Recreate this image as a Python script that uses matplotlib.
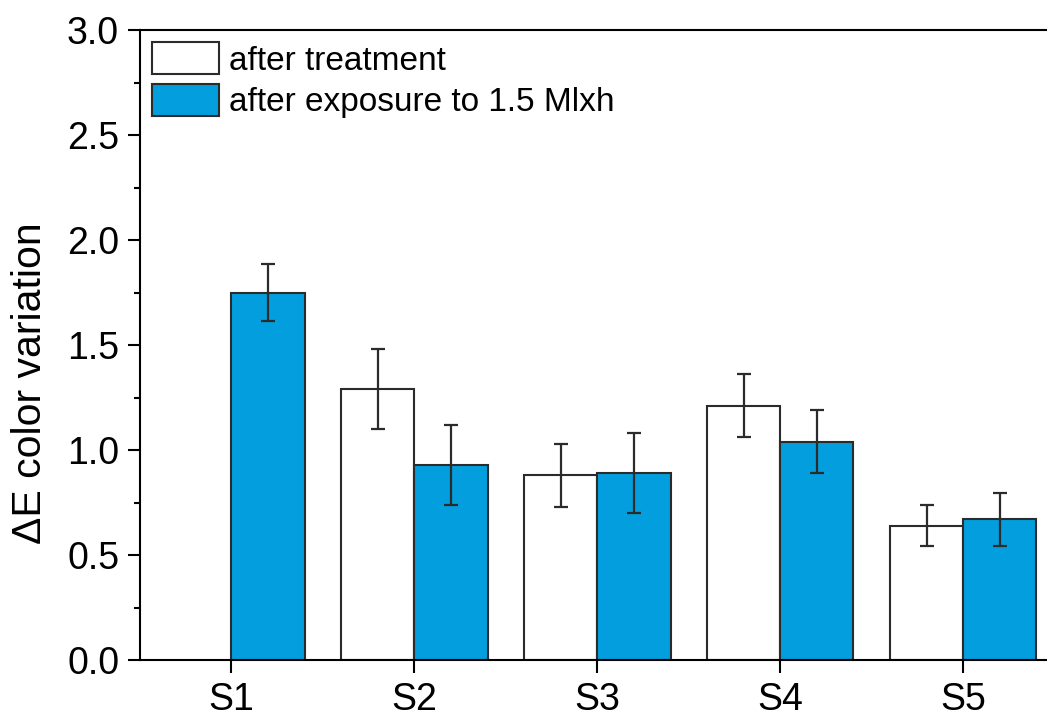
import matplotlib.pyplot as plt
import numpy as np

plt.rcParams['font.family'] = ['Liberation Sans', 'DejaVu Sans']

samples = ["S1", "S2", "S3", "S4", "S5"]
after_treatment = [np.nan, 1.29, 0.88, 1.21, 0.64]
after_treatment_err = [np.nan, 0.19, 0.15, 0.15, 0.097]
after_exposure = [1.75, 0.93, 0.89, 1.04, 0.67]
after_exposure_err = [0.135, 0.19, 0.19, 0.15, 0.125]

blue = "#029edd"
edge = "#2b2b2b"

fig = plt.figure(figsize=(10.47, 7.19), dpi=100)
# axes runs past the right edge of the figure
ax = fig.add_axes([140 / 1047, 59 / 719, 933 / 1047, 630 / 719])

x = np.arange(1, len(samples) + 1)
w = 0.4
ax.bar(x - w / 2, after_treatment, w, color="white", edgecolor=edge, linewidth=1.5,
       label="after treatment")
ax.bar(x + w / 2, after_exposure, w, color=blue, edgecolor=edge, linewidth=1.5,
       label="after exposure to 1.5 Mlxh")
ax.errorbar(x - w / 2, after_treatment, yerr=after_treatment_err, fmt="none",
            ecolor=edge, elinewidth=1.6, capsize=5, capthick=1.6)
ax.errorbar(x + w / 2, after_exposure, yerr=after_exposure_err, fmt="none",
            ecolor=edge, elinewidth=1.6, capsize=5, capthick=1.6)

ax.set_xlim(0.5, 5.6)
ax.set_ylim(0, 3.0)
ax.set_xticks(x)
ax.set_xticklabels(samples)
ax.set_yticks(np.arange(0, 3.01, 0.5))
ax.set_yticks(np.arange(0, 3.01, 0.25), minor=True)
ax.yaxis.set_major_formatter(plt.FormatStrFormatter("%.1f"))

for s in ax.spines.values():
    s.set_linewidth(1.5)
ax.tick_params(axis="both", which="major", direction="out", length=9, width=1.5,
               labelsize=27)
ax.tick_params(axis="y", which="minor", direction="out", length=4.5, width=1.5)
ax.tick_params(axis="x", pad=7)
ax.tick_params(axis="y", pad=6)

ax.set_ylabel("ΔE color variation", fontsize=29.5)
ax.yaxis.set_label_coords(-0.097, 0.44)

ax.legend(loc="upper left", frameon=False, fontsize=24, handlelength=2.0,
          handleheight=1.12, labelspacing=0.22, handletextpad=0.3,
          borderpad=0, borderaxespad=0.36)

fig.savefig("out.png", dpi=100)
